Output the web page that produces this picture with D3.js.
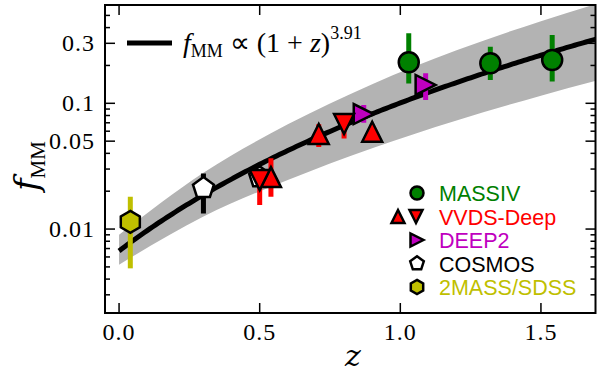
<!DOCTYPE html>
<html>
<head>
<meta charset="utf-8">
<script src="https://d3js.org/d3.v7.min.js"></script>
<style>
body { margin: 0; background: #fff; }
svg { display: block; }
.tick-label { font-family: "Liberation Serif", serif; font-size: 24px; letter-spacing: 1px; }
.leg { font-family: "Liberation Sans", Arial, sans-serif; font-size: 21.5px; }
</style>
</head>
<body>
<div id="chart"></div>
<script>
// axis limits and ticks
var zLim = [-0.05, 1.694];
var fLim = [0.00215, 0.605];
var zTicks = [0.0, 0.5, 1.0, 1.5];
var zTickLabels = ["0.0", "0.5", "1.0", "1.5"];
var fTicks = [0.01, 0.05, 0.1, 0.3];
var fTickLabels = ["0.01", "0.05", "0.1", "0.3"];
var fMinorTicks = [0.003, 0.004, 0.005, 0.006, 0.007, 0.008, 0.009,
  0.02, 0.03, 0.04, 0.06, 0.07, 0.08, 0.09, 0.2, 0.4, 0.5];

// fit  f = norm * (1+z)^slope
var fitNorm = 0.0067;
var fitSlope = 3.91;

// shaded band
var bandZ  = [0, 0.3, 0.6, 0.9, 1.2, 1.5, 1.7];
var bandHi = [0.0090, 0.028, 0.068, 0.142, 0.264, 0.45, 0.62];
var bandLo = [0.0052, 0.0126, 0.0246, 0.044, 0.073, 0.115, 0.152];

// surveys
var massivZ  = [1.03, 1.32, 1.54];
var massivF  = [0.212, 0.208, 0.221];
var massivLo = [0.144, 0.153, 0.149];
var massivHi = [0.360, 0.282, 0.349];

var vvdsUpZ  = [0.54, 0.71, 0.90];
var vvdsUpF  = [0.0259, 0.0570, 0.0594];
var vvdsUpLo = [0.0181, 0.0449, 0.050];
var vvdsUpHi = [0.0365, 0.068, 0.068];

var vvdsDownZ  = [0.50, 0.80];
var vvdsDownF  = [0.0245, 0.0684];
var vvdsDownLo = [0.0155, 0.0526];
var vvdsDownHi = [0.027, 0.080];

var deep2Z  = [0.87, 1.09];
var deep2F  = [0.0822, 0.140];
var deep2Lo = [0.070, 0.106];
var deep2Hi = [0.0968, 0.173];

var cosmosZ  = [0.30, 0.50];
var cosmosF  = [0.0212, 0.0258];
var cosmosLo = [0.0133, 0.023];
var cosmosHi = [0.0277, 0.029];

var sdssZ  = [0.04];
var sdssF  = [0.0114];
var sdssLo = [0.00487];
var sdssHi = [0.0181];

var W = 600, H = 374;
var pL = 105, pR = 595.5, pT = 5, pB = 313;

var x = d3.scaleLinear().domain(zLim).range([pL, pR]);
var y = d3.scaleLog().domain(fLim).range([pB, pT]);

var svg = d3.select("#chart").append("svg")
  .attr("width", W).attr("height", H);

svg.append("clipPath").attr("id", "clip")
  .append("rect").attr("x", pL).attr("y", pT)
  .attr("width", pR - pL).attr("height", pB - pT);

var plot = svg.append("g").attr("clip-path", "url(#clip)");

// band
var band = bandZ.map(function(z, i) { return {z: z, lo: bandLo[i], hi: bandHi[i]}; });
plot.append("path")
  .datum(band)
  .attr("d", d3.area()
    .x(function(d) { return x(d.z); })
    .y0(function(d) { return y(d.lo); })
    .y1(function(d) { return y(d.hi); })
    .curve(d3.curveMonotoneX))
  .attr("fill", "#b3b3b3");

// fit line
var fitZ = d3.range(0, 1.71, 0.01);
plot.append("path")
  .datum(fitZ)
  .attr("d", d3.line()
    .x(function(z) { return x(z); })
    .y(function(z) { return y(fitNorm * Math.pow(1 + z, fitSlope)); }))
  .attr("fill", "none")
  .attr("stroke", "#000")
  .attr("stroke-width", 5);

// marker shapes
function polygon(n, r) {
  var pts = [];
  for (var i = 0; i < n; i++) {
    var a = i * 2 * Math.PI / n;
    pts.push([r * Math.sin(a), -r * Math.cos(a)]);
  }
  return "M" + pts.join("L") + "Z";
}
var shapes = {
  circle: function(s) { return "M" + s + ",0A" + s + "," + s + " 0 1,1 " + (-s) + ",0A" + s + "," + s + " 0 1,1 " + s + ",0Z"; },
  up: function(s) { return "M0," + (-s) + "L" + s + "," + s + "L" + (-s) + "," + s + "Z"; },
  down: function(s) { return "M0," + s + "L" + s + "," + (-s) + "L" + (-s) + "," + (-s) + "Z"; },
  right: function(s) { return "M" + s + ",0L" + (-s) + "," + s + "L" + (-s) + "," + (-s) + "Z"; },
  pentagon: function(s) { return polygon(5, s * 1.1); },
  hexagon: function(s) { return polygon(6, s * 1.1); }
};

var sets = [
  {z: sdssZ, f: sdssF, lo: sdssLo, hi: sdssHi, shape: "hexagon", fill: "#bfbf00", bar: "#bfbf00"},
  {z: cosmosZ, f: cosmosF, lo: cosmosLo, hi: cosmosHi, shape: "pentagon", fill: "#fff", bar: "#000"},
  {z: deep2Z, f: deep2F, lo: deep2Lo, hi: deep2Hi, shape: "right", fill: "#bf00bf", bar: "#bf00bf"},
  {z: vvdsUpZ, f: vvdsUpF, lo: vvdsUpLo, hi: vvdsUpHi, shape: "up", fill: "#ff0000", bar: "#ff0000"},
  {z: vvdsDownZ, f: vvdsDownF, lo: vvdsDownLo, hi: vvdsDownHi, shape: "down", fill: "#ff0000", bar: "#ff0000"},
  {z: massivZ, f: massivF, lo: massivLo, hi: massivHi, shape: "circle", fill: "#008000", bar: "#008000"}
];

sets.forEach(function(s) {
  var pts = s.z.map(function(z, i) { return {z: z, f: s.f[i], lo: s.lo[i], hi: s.hi[i]}; });
  var g = plot.append("g");
  g.selectAll("line").data(pts).enter().append("line")
    .attr("x1", function(d) { return x(d.z); })
    .attr("x2", function(d) { return x(d.z); })
    .attr("y1", function(d) { return y(d.lo); })
    .attr("y2", function(d) { return y(d.hi); })
    .attr("stroke", s.bar)
    .attr("stroke-width", 5);
  g.selectAll("path").data(pts).enter().append("path")
    .attr("d", shapes[s.shape](10))
    .attr("transform", function(d) { return "translate(" + x(d.z) + "," + y(d.f) + ")"; })
    .attr("fill", s.fill)
    .attr("stroke", "#000")
    .attr("stroke-width", 2.5)
    .attr("stroke-linejoin", "miter");
});

// frame and ticks
svg.append("rect")
  .attr("x", pL).attr("y", pT)
  .attr("width", pR - pL).attr("height", pB - pT)
  .attr("fill", "none").attr("stroke", "#000").attr("stroke-width", 2);

var axes = svg.append("g").attr("stroke", "#000").attr("stroke-width", 1.5);
zTicks.forEach(function(t) {
  axes.append("line").attr("x1", x(t)).attr("x2", x(t)).attr("y1", pB).attr("y2", pB - 10);
  axes.append("line").attr("x1", x(t)).attr("x2", x(t)).attr("y1", pT).attr("y2", pT + 10);
});
fTicks.forEach(function(t) {
  axes.append("line").attr("x1", pL).attr("x2", pL + 10).attr("y1", y(t)).attr("y2", y(t));
  axes.append("line").attr("x1", pR).attr("x2", pR - 10).attr("y1", y(t)).attr("y2", y(t));
});
fMinorTicks.forEach(function(t) {
  axes.append("line").attr("x1", pL).attr("x2", pL + 5).attr("y1", y(t)).attr("y2", y(t));
  axes.append("line").attr("x1", pR).attr("x2", pR - 5).attr("y1", y(t)).attr("y2", y(t));
});

svg.selectAll(".zlab").data(zTicks).enter().append("text")
  .attr("class", "tick-label")
  .attr("x", function(d) { return x(d); })
  .attr("y", 340)
  .attr("text-anchor", "middle")
  .text(function(d, i) { return zTickLabels[i]; });

svg.selectAll(".flab").data(fTicks).enter().append("text")
  .attr("class", "tick-label")
  .attr("x", 95)
  .attr("y", function(d) { return y(d) + 8; })
  .attr("text-anchor", "end")
  .text(function(d, i) { return fTickLabels[i]; });

// axis titles
svg.append("text")
  .attr("x", 353).attr("y", 366)
  .attr("text-anchor", "middle")
  .style("font-family", "DejaVu Serif, serif")
  .style("font-style", "italic")
  .style("font-size", "30px")
  .text("z");

var ylab = svg.append("text")
  .attr("transform", "translate(38,166) rotate(-90)")
  .attr("text-anchor", "middle")
  .style("font-family", "DejaVu Serif, serif")
  .style("font-size", "34px");
ylab.append("tspan").style("font-style", "italic").text("f");
ylab.append("tspan").attr("dy", 7).style("font-size", "21px").style("font-family", "Liberation Serif, serif").text("MM");

// fit legend (top left)
svg.append("line")
  .attr("x1", 127).attr("x2", 172).attr("y1", 43).attr("y2", 43)
  .attr("stroke", "#000").attr("stroke-width", 5);
var fitLab = svg.append("text")
  .attr("x", 183).attr("y", 52)
  .style("font-family", "Liberation Serif, serif")
  .style("font-size", "28px");
fitLab.append("tspan").style("font-style", "italic").text("f");
fitLab.append("tspan").attr("dy", 5).style("font-size", "18px").text("MM");
fitLab.append("tspan").attr("dy", -5).text(" \u221D (1 + ");
fitLab.append("tspan").style("font-style", "italic").text("z");
fitLab.append("tspan").text(")");
fitLab.append("tspan").attr("dy", -13).style("font-size", "18px").text("3.91");

// survey legend (bottom right)
var legNames = ["MASSIV", "VVDS-Deep", "DEEP2", "COSMOS", "2MASS/SDSS"];
var legColors = ["#008000", "#ff0000", "#bf00bf", "#000000", "#bfbf00"];
var legFills = ["#008000", "#ff0000", "#bf00bf", "#ffffff", "#bfbf00"];
var legShapes = [["circle"], ["up", "down"], ["right"], ["pentagon"], ["hexagon"]];

var leg = svg.append("g");
legNames.forEach(function(name, i) {
  var yy = 193 + i * 23.5;
  var shp = legShapes[i];
  shp.forEach(function(s, j) {
    var xx = shp.length === 1 ? 417 : 398 + j * 18;
    leg.append("path")
      .attr("d", shapes[s](6.5))
      .attr("transform", "translate(" + xx + "," + yy + ")")
      .attr("fill", legFills[i])
      .attr("stroke", "#000")
      .attr("stroke-width", 2.5);
  });
  leg.append("text")
    .attr("class", "leg")
    .attr("x", 439).attr("y", yy + 8)
    .attr("fill", legColors[i])
    .text(name);
});
</script>
</body>
</html>
